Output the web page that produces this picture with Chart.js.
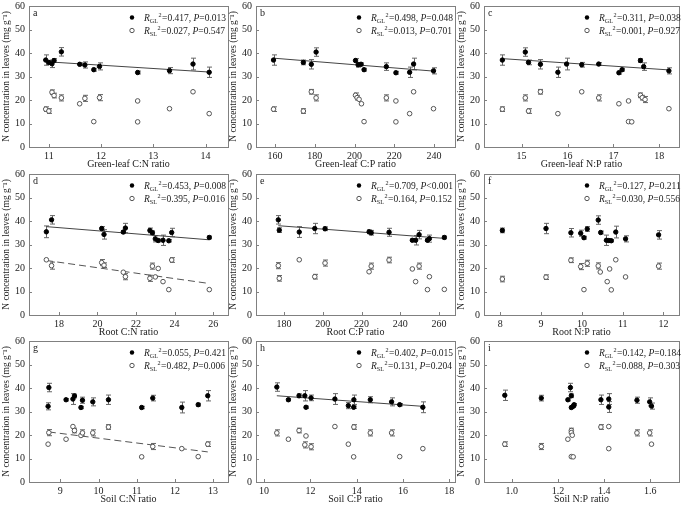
<!DOCTYPE html>
<html>
<head>
<meta charset="utf-8">
<script src="https://cdn.jsdelivr.net/npm/chart.js@4/dist/chart.umd.min.js"></script>
<style>
  body { margin: 0; background: #fff; width: 685px; height: 506px; overflow: hidden; position: relative; }
  canvas { position: absolute; }
</style>
</head>
<body>
<script>
// ---- data: [x, N concentration, error] for green leaves (GL) and senesced leaves (SL)
const aGL = [[10.94,37.0,2.2],[11.0,36.0,0.8],[11.06,35.4,1.6],[11.1,36.8,0.8],[11.24,40.5,1.8],[11.59,35.2,0.6],[11.69,34.9,1.3],[11.86,32.9,0.6],[11.97,34.3,1.5],[12.7,31.7,0.6],[13.31,32.5,1.3],[13.76,35.3,2.5],[14.07,31.8,2.2]];
const aSL = [[10.94,16.1,1.0],[11.0,15.3,1.0],[11.06,23.3,1.0],[11.1,21.9,1.0],[11.24,20.9,1.3],[11.59,18.4,0],[11.69,20.7,1.3],[11.86,10.8,0],[11.97,21.0,1.3],[12.7,19.6,0],[12.7,10.7,0],[13.31,16.3,0],[13.76,23.5,0],[14.07,14.2,0]];
const bGL = [[159.3,37.0,2.2],[174.3,36.0,1.0],[178.3,35.2,2.0],[180.7,40.4,1.8],[200.5,36.8,0.8],[201.8,35.0,1.0],[203.3,35.2,0.6],[204.8,32.9,0.6],[216,34.2,1.6],[220.8,31.6,0.6],[227.7,31.8,2.2],[229.7,35.3,2.5],[239.7,32.4,1.3]];
const bSL = [[159.3,16.1,1.0],[174.3,15.3,1.0],[178.3,23.5,1.0],[180.7,20.9,1.3],[200.5,22.0,1.0],[201.3,21.0,1.0],[202.3,20.3,0],[203.5,18.4,0],[204.8,10.8,0],[216,20.9,1.3],[220.8,19.6,0],[220.8,10.7,0],[227.7,14.2,0],[229.7,23.5,0],[239.7,16.3,0]];
const cGL = [[14.58,37.0,2.2],[15.08,40.4,1.8],[15.15,36.0,1.0],[15.41,35.2,2.0],[15.79,31.8,2.2],[15.98,35.3,2.5],[16.31,35.0,1.0],[16.68,35.3,0.6],[17.12,31.6,0.6],[17.19,32.9,0.6],[17.59,36.8,0.8],[17.66,34.2,1.6],[18.21,32.4,1.3]];
const cSL = [[14.58,16.1,1.0],[15.08,20.9,1.3],[15.15,15.3,1.0],[15.41,23.5,1.0],[15.79,14.2,0],[16.31,23.5,0],[16.68,20.9,1.3],[17.12,18.4,0],[17.33,19.6,0],[17.33,10.8,0],[17.4,10.7,0],[17.59,22.0,1.0],[17.63,21.0,1.0],[17.69,20.2,1.3],[18.21,16.3,0]];
const dGL = [[17.35,35.4,2.5],[17.62,40.5,1.8],[20.22,36.8,0.8],[20.34,34.3,2.0],[21.34,35.3,0.6],[21.45,37.0,2.0],[22.72,36.0,1.0],[22.85,35.0,0.8],[23.0,32.4,1.3],[23.15,31.7,0.6],[23.4,31.8,2.2],[23.7,31.6,0.5],[23.85,35.1,1.8],[25.8,33.0,0.6]];
const dSL = [[17.35,23.5,0],[17.62,21.0,1.5],[20.22,22.3,1.3],[20.34,21.2,1.0],[21.34,18.2,0],[21.45,16.3,1.3],[22.72,15.6,1.3],[22.85,20.8,1.3],[23.0,16.2,0],[23.15,19.8,0],[23.4,14.2,0],[23.7,10.8,0],[23.85,23.4,1.0],[25.8,10.8,0]];
const eGL = [[177.1,40.5,1.8],[177.6,36.1,1.0],[187.9,35.3,2.3],[195.9,36.8,2.2],[201.2,36.7,0.8],[223.9,35.4,0.8],[225,35.0,1.0],[234.2,35.2,1.7],[246.2,31.8,0.5],[247.9,31.8,2.0],[249.7,34.2,1.8],[254,31.8,0.5],[255,32.5,1.5],[262.7,33.0,0.6]];
const eSL = [[177.1,21.0,1.3],[177.6,15.6,1.2],[187.9,23.5,0],[195.9,16.3,1.0],[201.2,22.1,1.3],[223.9,18.4,0],[225,20.8,1.3],[234.2,23.4,1.2],[246.2,19.6,0],[247.9,14.2,0],[249.7,20.8,1.3],[254,10.8,0],[255,16.3,0],[262.7,10.9,0]];
const fGL = [[8.05,36.0,1.0],[9.12,36.8,2.2],[9.73,35.0,1.8],[9.97,34.8,1.3],[10.05,32.9,0.6],[10.13,36.6,1.0],[10.4,40.4,1.8],[10.46,35.1,0.6],[10.6,31.8,2.2],[10.66,31.7,0.6],[10.72,31.6,0.5],[10.83,35.3,2.5],[11.07,32.4,1.3],[11.88,34.1,1.8]];
const fSL = [[8.05,15.3,1.2],[9.12,16.1,1.0],[9.73,23.3,1.0],[9.97,20.6,1.3],[10.05,10.8,0],[10.13,22.0,1.3],[10.4,20.9,1.3],[10.45,18.3,0],[10.62,14.2,0],[10.68,19.6,0],[10.72,10.7,0],[10.83,23.5,0],[11.07,16.2,0],[11.88,20.8,1.3]];
const gGL = [[8.68,32.2,1.5],[8.7,40.2,1.8],[9.15,35.0,0.5],[9.33,35.3,2.3],[9.37,36.6,0.8],[9.54,31.7,0.5],[9.58,34.8,1.3],[9.85,34.1,1.7],[10.26,35.0,2.0],[11.13,31.7,0.5],[11.42,35.7,1.2],[12.18,31.7,2.3],[12.61,32.9,0.6],[12.86,36.7,2.2]];
const gSL = [[8.68,16.1,0],[8.7,21.0,1.3],[9.15,18.2,0],[9.33,23.6,0],[9.37,21.9,1.0],[9.54,19.8,0],[9.58,20.9,1.3],[9.85,20.9,1.3],[10.26,23.4,1.0],[11.13,10.7,0],[11.42,15.1,1.3],[12.18,14.2,0],[12.61,10.8,0],[12.86,16.1,1.0]];
const hGL = [[10.55,40.4,1.8],[11.05,35.0,0.5],[11.51,36.7,0.8],[11.76,36.7,2.2],[11.81,31.8,0.5],[12.03,35.8,1.2],[13.06,35.3,2.3],[13.64,32.5,1.3],[13.87,31.8,0.5],[13.88,35.0,2.0],[14.59,35.0,1.3],[15.51,34.1,1.7],[15.86,32.9,0.5],[16.86,31.8,2.3]];
const hSL = [[10.55,20.9,1.3],[11.05,18.2,0],[11.51,21.9,1.0],[11.76,15.8,1.3],[11.81,19.6,0],[12.03,15.0,1.3],[13.06,23.6,0],[13.64,16.1,0],[13.87,10.7,0],[13.88,23.4,1.0],[14.59,20.9,1.3],[15.51,20.9,1.3],[15.86,10.8,0],[16.86,14.2,0]];
const iGL = [[0.97,36.9,2.2],[1.128,35.7,1.2],[1.243,35.0,0.5],[1.254,40.2,1.8],[1.258,36.7,0.8],[1.258,31.7,0.5],[1.266,32.2,0.5],[1.27,32.9,0.5],[1.386,35.0,2.0],[1.42,35.3,2.3],[1.42,31.9,2.3],[1.542,34.8,1.3],[1.597,34.1,1.7],[1.605,32.3,1.3]];
const iSL = [[0.97,16.1,1.0],[1.128,15.1,1.3],[1.243,18.2,0],[1.258,21.9,1.0],[1.258,21.0,0],[1.262,19.9,0],[1.258,10.8,0],[1.266,10.7,0],[1.386,23.4,1.0],[1.42,23.6,0],[1.42,14.2,0],[1.542,20.9,1.3],[1.597,20.9,1.3],[1.605,16.1,0]];

// regression lines (end points), null where not drawn
const fitGL = [[[10.94,36.3],[14.07,31.9]], [[159.3,37.8],[239.7,32.3]], [[14.58,37.6],[18.21,32.8]],
               [[17.35,37.6],[25.8,32.0]], [[177.1,38.0],[262.7,32.6]], null,
               null, [[10.55,36.7],[16.86,32.2]], null];
const fitSL = [null, null, null, [[17.35,23.2],[25.8,13.4]], null, null, [[8.7,21.3],[12.86,12.8]], null, null];

const letters = ['a','b','c','d','e','f','g','h','i'];
const xTitles = ['Green-leaf C:N ratio','Green-leaf C:P ratio','Green-leaf N:P ratio',
                 'Root C:N ratio','Root C:P ratio','Root N:P ratio',
                 'Soil C:N ratio','Soil C:P ratio','Soil N:P ratio'];
const xTicks = [[11,12,13,14],[160,180,200,220,240],[15,16,17,18],
                [18,20,22,24,26],[180,200,220,240,260],[8,9,10,11,12],
                [9,10,11,12,13],[10,12,14,16,18],[1.0,1.2,1.4,1.6]];
const xRange = [[10.62,14.43],[150.5,250.5],[14.18,18.43],[16.45,26.77],[165.6,268.2],[7.6,12.38],[8.18,13.39],[9.65,18.25],[0.88,1.724]];
const yTicks = [0,10,20,30,40,50,60];
const statGL = [['0.417','=','0.013'],['0.498','=','0.048'],['0.311','=','0.038'],['0.453','=','0.008'],['0.709','<','0.001'],['0.127','=','0.211'],['0.055','=','0.421'],['0.402','=','0.015'],['0.142','=','0.184']];
const statSL = [['0.027','=','0.547'],['0.013','=','0.701'],['0.001','=','0.927'],['0.395','=','0.016'],['0.164','=','0.152'],['0.030','=','0.556'],['0.482','=','0.006'],['0.131','=','0.204'],['0.088','=','0.303']];
const glData = [aGL,bGL,cGL,dGL,eGL,fGL,gGL,hGL,iGL];
const slData = [aSL,bSL,cSL,dSL,eSL,fSL,gSL,hSL,iSL];

// ---- layout
const colLeft = [29, 256, 484];
const colWidth = [199, 199, 195];
const rowTop = [4, 172, 339];
const plotH = 143;
const FF = "'Liberation Serif', 'Times New Roman', serif";
const FS = 10;
const LFS = 9.5; // stats text
const INK = '#222';

// error bars, frame, inward ticks and the stats text
const panelPlugin = {
  id: 'panel',
  beforeDatasetsDraw(chart) {
    const ctx = chart.ctx, xs = chart.scales.x, ys = chart.scales.y;
    ctx.save();
    ctx.strokeStyle = '#666';
    ctx.lineWidth = 1;
    chart.data.datasets.forEach(ds => {
      if (!ds.err) return;
      ds.data.forEach((p, i) => {
        const e = ds.err[i];
        if (!e) return;
        const x = Math.round(xs.getPixelForValue(p.x)) + 0.5;
        const y1 = ys.getPixelForValue(p.y + e), y2 = ys.getPixelForValue(p.y - e);
        ctx.beginPath();
        ctx.moveTo(x, y1); ctx.lineTo(x, y2);
        ctx.moveTo(x - 2.5, y1); ctx.lineTo(x + 2.5, y1);
        ctx.moveTo(x - 2.5, y2); ctx.lineTo(x + 2.5, y2);
        ctx.stroke();
      });
    });
    ctx.restore();
  },
  afterDraw(chart, args, opts) {
    const ctx = chart.ctx, a = chart.chartArea, xs = chart.scales.x, ys = chart.scales.y;
    ctx.save();
    ctx.strokeStyle = '#808080';
    ctx.lineWidth = 1;
    ctx.strokeRect(Math.round(a.left) + 0.5, Math.round(a.top) + 0.5, Math.round(a.right - a.left), Math.round(a.bottom - a.top));
    ctx.beginPath();
    xs.ticks.forEach(t => {
      const x = Math.round(xs.getPixelForValue(t.value)) + 0.5;
      ctx.moveTo(x, a.bottom); ctx.lineTo(x, a.bottom - 3);
    });
    ys.ticks.forEach(t => {
      const y = Math.round(ys.getPixelForValue(t.value)) + 0.5;
      ctx.moveTo(a.left, y); ctx.lineTo(a.left + 3, y);
    });
    ctx.stroke();

    ctx.fillStyle = INK;
    ctx.textBaseline = 'alphabetic';
    ctx.font = `${FS}px ${FF}`;
    ctx.fillText(opts.letter, a.left + 4, a.top + 10);

    const dotX = a.left + 103, textX = a.left + 115;
    const rows = [[opts.gl, 'GL', true, a.top + 15], [opts.sl, 'SL', false, a.top + 28]];
    rows.forEach(([s, sub, filled, base]) => {
      ctx.beginPath();
      ctx.arc(dotX, base - 3.5, 2.2, 0, Math.PI * 2);
      if (filled) { ctx.fillStyle = '#000'; ctx.fill(); }
      else { ctx.fillStyle = '#fff'; ctx.fill(); ctx.strokeStyle = '#555'; ctx.stroke(); }
      ctx.fillStyle = INK;
      let x = textX;
      ctx.font = `italic ${LFS}px ${FF}`;
      ctx.fillText('R', x, base); x += ctx.measureText('R').width;
      ctx.font = `${LFS * 0.65}px ${FF}`;
      ctx.fillText(sub, x, base + 2);
      const w = ctx.measureText(sub).width;
      ctx.fillText('2', x + w + 0.5, base - 4);
      x += w + ctx.measureText('2').width + 1;
      ctx.font = `${LFS}px ${FF}`;
      const t1 = '=' + s[0] + ', ';
      ctx.fillText(t1, x, base); x += ctx.measureText(t1).width;
      ctx.font = `italic ${LFS}px ${FF}`;
      ctx.fillText('P', x, base); x += ctx.measureText('P').width;
      ctx.font = `${LFS}px ${FF}`;
      ctx.fillText(s[1] + s[2], x, base);
    });
    ctx.restore();
  }
};

function toPts(arr) { return arr.map(p => ({ x: p[0], y: p[1] })); }

letters.forEach((letter, k) => {
  const row = Math.floor(k / 3), col = k % 3;
  const L = colLeft[col], W = colWidth[col], T = rowTop[row];
  const canvas = document.createElement('canvas');
  canvas.width = W + 29 + 8;
  canvas.height = plotH + 8 + 23;
  canvas.style.left = (L - 29) + 'px';
  canvas.style.top = (T - 8) + 'px';
  document.body.appendChild(canvas);

  const dec = xTicks[k].some(v => !Number.isInteger(v)) ? 1 : 0;
  const datasets = [
    { data: toPts(glData[k]), err: glData[k].map(p => p[2]), pointRadius: 2.2, pointBackgroundColor: '#000', pointBorderColor: '#000', pointBorderWidth: 1 },
    { data: toPts(slData[k]), err: slData[k].map(p => p[2]), pointRadius: 2.3, pointBackgroundColor: '#fff', pointBorderColor: '#555', pointBorderWidth: 1 }
  ];
  if (fitGL[k]) datasets.push({ type: 'line', data: toPts(fitGL[k]), borderColor: '#444', borderWidth: 1, pointRadius: 0 });
  if (fitSL[k]) datasets.push({ type: 'line', data: toPts(fitSL[k]), borderColor: '#555', borderWidth: 1, borderDash: [7, 4], pointRadius: 0 });

  new Chart(canvas, {
    type: 'scatter',
    data: { datasets },
    options: {
      responsive: false,
      animation: false,
      events: [],
      layout: { padding: { top: 8, right: 8, left: 0, bottom: 0 } },
      plugins: {
        legend: { display: false },
        tooltip: { enabled: false },
        panel: { letter, gl: statGL[k], sl: statSL[k] }
      },
      scales: {
        x: {
          type: 'linear',
          min: xRange[k][0], max: xRange[k][1],
          afterBuildTicks: s => { s.ticks = xTicks[k].map(v => ({ value: v })); },
          afterFit: s => { s.height = 23; },
          ticks: { font: { family: FF, size: FS }, color: INK, padding: 3, maxRotation: 0, autoSkip: false,
                   callback: v => Number(v).toFixed(dec) },
          grid: { display: false, drawTicks: false },
          border: { display: false },
          title: { display: true, text: xTitles[k], font: { family: FF, size: FS }, color: INK, padding: 0 }
        },
        y: {
          min: 0, max: 60,
          afterBuildTicks: s => { s.ticks = yTicks.map(v => ({ value: v })); },
          afterFit: s => { s.width = 29; },
          ticks: { font: { family: FF, size: FS }, color: INK, padding: 4 },
          grid: { display: false, drawTicks: false },
          border: { display: false },
          title: { display: true, text: 'N concentration in leaves (mg g\u207B\u00B9)', font: { family: FF, size: 9.5 }, color: INK, padding: { top: 1, bottom: 0 } }
        }
      }
    },
    plugins: [panelPlugin]
  });
});
</script>
</body>
</html>
